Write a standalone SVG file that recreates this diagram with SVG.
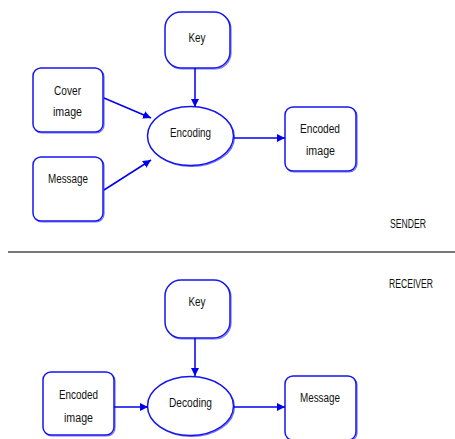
<svg xmlns="http://www.w3.org/2000/svg" width="455" height="439" viewBox="0 0 455 439">
<defs>
<marker id="ah" viewBox="0 0 10 10" refX="10" refY="5" markerWidth="8" markerHeight="8" markerUnits="userSpaceOnUse" orient="auto">
<path d="M0,0 L10,5 L0,10 z" fill="#0000ee"/>
</marker>
</defs>
<style>
.n{fill:#fff;stroke:#1515f0;stroke-width:1.5}
.s{fill:none;stroke:#7070f8;stroke-width:1.2}
.c{stroke:#0000ee;stroke-width:1.5;fill:none;marker-end:url(#ah)}
text{font-family:"Liberation Sans",Arial,sans-serif;font-size:12.5px;fill:#111;text-anchor:middle}
</style>
<rect width="455" height="439" fill="#fff"/>
<g id="sender-key"><rect class="s" x="166" y="13" width="65" height="56" rx="16"/><rect class="n" x="165" y="12" width="65" height="56" rx="16"/><text x="197" y="42" textLength="17" lengthAdjust="spacingAndGlyphs">Key</text></g>
<g id="cover-image"><rect class="s" x="34" y="69" width="70" height="64" rx="8"/><rect class="n" x="33" y="68" width="70" height="64" rx="8"/><text x="67.5" y="95" textLength="27" lengthAdjust="spacingAndGlyphs">Cover</text><text x="67.5" y="116" textLength="29" lengthAdjust="spacingAndGlyphs">image</text></g>
<g id="sender-message"><rect class="s" x="34" y="158" width="70" height="64" rx="8"/><rect class="n" x="33" y="157" width="70" height="64" rx="8"/><text x="68" y="183" textLength="40" lengthAdjust="spacingAndGlyphs">Message</text></g>
<g id="encoding"><ellipse class="s" cx="191.5" cy="137" rx="43" ry="29.5"/><ellipse class="n" cx="190.5" cy="136" rx="43" ry="29.5"/><text x="190.5" y="137" textLength="41" lengthAdjust="spacingAndGlyphs">Encoding</text></g>
<g id="encoded-image"><rect class="s" x="286" y="108" width="71" height="64" rx="8"/><rect class="n" x="285" y="107" width="71" height="64" rx="8"/><text x="320" y="133" textLength="40" lengthAdjust="spacingAndGlyphs">Encoded</text><text x="320.5" y="155" textLength="29" lengthAdjust="spacingAndGlyphs">image</text></g>
<g id="sender-label"><text x="408" y="228" textLength="36" lengthAdjust="spacingAndGlyphs">SENDER</text></g>
<g id="divider"><line x1="8" y1="252" x2="455" y2="252" stroke="#4a4a4a" stroke-width="1.5"/></g>
<g id="receiver-label"><text x="411" y="288" textLength="44" lengthAdjust="spacingAndGlyphs">RECEIVER</text></g>
<g id="receiver-key"><rect class="s" x="166" y="281" width="65" height="58" rx="16"/><rect class="n" x="165" y="280" width="65" height="58" rx="16"/><text x="197" y="306" textLength="17" lengthAdjust="spacingAndGlyphs">Key</text></g>
<g id="receiver-encoded-image"><rect class="s" x="44" y="373" width="71" height="63" rx="8"/><rect class="n" x="43" y="372" width="71" height="63" rx="8"/><text x="78.5" y="399" textLength="39" lengthAdjust="spacingAndGlyphs">Encoded</text><text x="78.5" y="422" textLength="29" lengthAdjust="spacingAndGlyphs">image</text></g>
<g id="decoding"><ellipse class="s" cx="191.5" cy="407" rx="43" ry="29.5"/><ellipse class="n" cx="190.5" cy="406" rx="43" ry="29.5"/><text x="190.5" y="407" textLength="43" lengthAdjust="spacingAndGlyphs">Decoding</text></g>
<g id="receiver-message"><rect class="s" x="286" y="377" width="71" height="64" rx="8"/><rect class="n" x="285" y="376" width="71" height="64" rx="8"/><text x="320" y="402" textLength="40" lengthAdjust="spacingAndGlyphs">Message</text></g>
<g id="connectors">
<line class="c" x1="195" y1="68" x2="195" y2="107"/>
<line class="c" x1="104" y1="98" x2="151" y2="118"/>
<line class="c" x1="104" y1="190" x2="151" y2="160"/>
<line class="c" x1="234" y1="138" x2="285" y2="138"/>
<line class="c" x1="195" y1="338" x2="195" y2="376"/>
<line class="c" x1="114" y1="407" x2="148" y2="407"/>
<line class="c" x1="234" y1="407" x2="285" y2="407"/>
</g>
</svg>
